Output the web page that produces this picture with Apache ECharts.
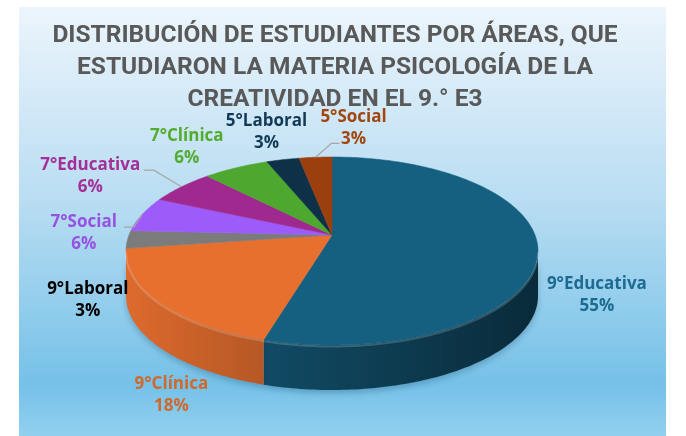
<!DOCTYPE html>
<html>
<head>
<meta charset="utf-8">
<script src="https://cdn.jsdelivr.net/npm/echarts@6/dist/echarts.min.js"></script>
<style>
html, body { margin: 0; padding: 0; background: #fff; }
#main { position: absolute; left: 19px; top: 7px; width: 647px; height: 429px; }
</style>
</head>
<body>
<div id="main"></div>
<script>
// data
var categories = ['9°Educativa', '9°Clínica', '9°Laboral', '7°Social', '7°Educativa', '7°Clínica', '5°Laboral', '5°Social'];
var students = [18, 6, 1, 2, 2, 2, 1, 1];

// styles
var sliceColors = ['#155f80', '#e8702f', '#7b7b7b', '#9d5cfa', '#a0298f', '#4ea72e', '#0e3148', '#9c3f0e'];
var labelColors = ['#1d6b91', '#d0692c', '#000000', '#9552e2', '#a52f98', '#52ac2e', '#123a56', '#a2460f'];
var leaderItems = ['7°Social', '7°Educativa', '5°Social'];
// small label nudges (px) from the default outside position
var labelNudge = [[10, 21], [34, 36], [13, 42], [2, 12], [-32, -3], [-6, 0], [7, -1], [46, 0]];

var titleText = 'DISTRIBUCIÓN DE ESTUDIANTES POR ÁREAS, QUE\nESTUDIARON LA MATERIA PSICOLOGÍA DE LA\nCREATIVIDAD EN EL 9.° E3';

var total = students.reduce(function (a, b) { return a + b; }, 0);

// pie geometry (px, inside the chart box): tilted disc seen in perspective
var cx = 313, cy = 228, A = 203, B = 91.3, K = 0.17, depth = 45;
// ring used to place the labels
var lcx = 313, lcy = 243, lrx = 206, lry = 94;

function pt(deg, dy) {
    var r = deg * Math.PI / 180;
    var u = Math.sin(r), v = Math.cos(r);
    var w = 1 + K * v;
    return [cx + A * u / w, cy - B * v / w + (dy || 0)];
}
function arc(a0, a1, dy) {
    var pts = [];
    var n = Math.max(2, Math.ceil(Math.abs(a1 - a0)));
    for (var i = 0; i <= n; i++) {
        pts.push(pt(a0 + (a1 - a0) * i / n, dy));
    }
    return pts;
}
function shade(hex, f) {
    var c = echarts.color.parse(hex);
    return 'rgb(' + Math.round(c[0] * f) + ',' + Math.round(c[1] * f) + ',' + Math.round(c[2] * f) + ')';
}

// silhouette angles of the side wall
var edgeA = Math.acos(-K) * 180 / Math.PI;
var edgeB = 360 - edgeA;

function renderSlice(params, api) {
    var i = params.dataIndex;
    var before = 0;
    for (var k = 0; k < i; k++) before += students[k];
    var v = api.value(0);
    var a0 = before / total * 360;
    var a1 = (before + v) / total * 360;
    var mid = (a0 + a1) / 2;
    var color = sliceColors[i];
    var children = [];

    // top face
    var face = [[cx, cy]].concat(arc(a0, a1, 0));
    children.push({
        type: 'polygon', z2: 2,
        shape: { points: face },
        style: { fill: color, stroke: color, lineWidth: 0.5 }
    });

    // visible side wall (front part)
    var c0 = Math.max(a0, edgeA), c1 = Math.min(a1, edgeB);
    if (c1 > c0) {
        var wall = arc(c0, c1, 0).concat(arc(c1, c0, depth));
        children.push({
            type: 'polygon', z2: 1,
            shape: { points: wall },
            style: {
                fill: {
                    type: 'linear', x: cx - A, y: 0, x2: cx + A, y2: 0, global: true,
                    colorStops: [
                        { offset: 0, color: shade(color, 0.95) },
                        { offset: 0.5, color: shade(color, 0.7) },
                        { offset: 1, color: shade(color, 0.45) }
                    ]
                },
                shadowBlur: 6, shadowOffsetY: 3, shadowColor: 'rgba(0,40,70,0.25)'
            }
        });
        // soft rim highlight on the front edge
        children.push({
            type: 'polyline', z2: 3,
            shape: { points: arc(c0, c1, 1.5) },
            style: { stroke: 'rgba(255,255,255,0.18)', lineWidth: 2, fill: null }
        });
    }

    // label
    var r = mid * Math.PI / 180;
    var s = Math.sin(r), c = Math.cos(r);
    var lx = lcx + lrx * 1.25 * s + labelNudge[i][0];
    var ly = lcy - lry * 1.3 * c + (c < 0 ? -c * depth : 0) + labelNudge[i][1];
    var pct = Math.round(v / total * 100) + '%';
    children.push({
        type: 'text', z2: 5,
        x: lx, y: ly,
        style: {
            text: categories[i] + '\n' + pct,
            fill: labelColors[i],
            font: 'bold 17px "Open Sans"',
            lineHeight: 22,
            align: 'center',
            verticalAlign: 'middle'
        }
    });

    // leader line
    if (leaderItems.indexOf(categories[i]) >= 0) {
        var p = pt(mid, 0);
        var sx, sy, ex;
        if (lx < p[0]) {
            sx = lx + categories[i].length * 4.5 + 4; sy = ly - 6; ex = sx + 10;
        } else {
            sx = lx - 14; sy = ly + 15; ex = sx - 8;
        }
        children.push({
            type: 'polyline', z2: 4,
            shape: { points: [[sx, sy], [ex, sy], p] },
            style: { stroke: '#a6a6a6', lineWidth: 1.2, fill: null }
        });
    }

    return { type: 'group', children: children };
}

var chart = echarts.init(document.getElementById('main'));
chart.setOption({
    backgroundColor: {
        type: 'linear', x: 0, y: 0, x2: 0, y2: 1,
        colorStops: [
            { offset: 0, color: '#ecf5fc' },
            { offset: 0.45, color: '#b9ddf2' },
            { offset: 0.88, color: '#75c1e8' },
            { offset: 1, color: '#92d0ef' }
        ]
    },
    graphic: [{
        type: 'text',
        x: 316,
        y: 13,
        style: {
            text: titleText,
            font: 'bold 24.5px Roboto',
            lineHeight: 32,
            fill: '#595959',
            align: 'center',
            verticalAlign: 'top'
        }
    }],
    series: [{
        type: 'custom',
        coordinateSystem: 'none',
        renderItem: renderSlice,
        data: students
    }]
});
</script>
</body>
</html>
